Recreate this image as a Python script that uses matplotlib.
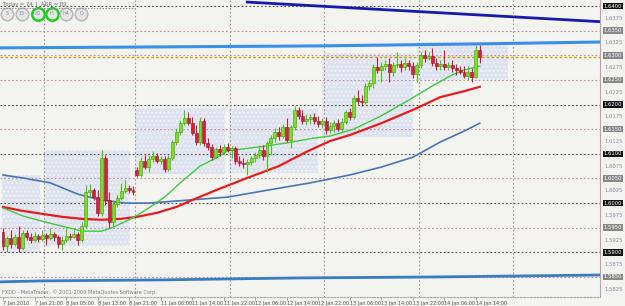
import numpy as np
import matplotlib
matplotlib.use("Agg")
import matplotlib.pyplot as plt
from matplotlib.patches import Rectangle
from matplotlib.transforms import blended_transform_factory

# GBPUSD H1 candles, bar index 0 = 7 Jan 2010 13:00
opens = [1.5941, 1.5913, 1.5929, 1.5917, 1.5931, 1.5909, 1.5939, 1.5931, 1.5925, 1.5933,
         1.5927, 1.5935, 1.5929, 1.5937, 1.5931, 1.5917, 1.5925, 1.5933, 1.5931, 1.5937,
         1.5925, 1.5953, 1.6022, 1.6026, 1.6012, 1.5980, 1.6091, 1.6006, 1.5961, 1.5998,
         1.6010, 1.6024, 1.6031, 1.6026, 1.6067, 1.6057, 1.6085, 1.6073, 1.6089, 1.6095,
         1.6085, 1.6089, 1.6069, 1.6091, 1.6124, 1.6144, 1.6162, 1.6173, 1.6162, 1.6142,
         1.6124, 1.6167, 1.6122, 1.6114, 1.6093, 1.6110, 1.6104, 1.6114, 1.6108, 1.6112,
         1.6085, 1.6081, 1.6079, 1.6083, 1.6091, 1.6097, 1.6108, 1.6095, 1.6122, 1.6132,
         1.6144, 1.6136, 1.6154, 1.6128, 1.6154, 1.6189, 1.6177, 1.6167, 1.6171, 1.6175,
         1.6167, 1.6160, 1.6167, 1.6148, 1.6156, 1.6162, 1.6150, 1.6165, 1.6185, 1.6175,
         1.6213, 1.6207, 1.6205, 1.6238, 1.6244, 1.6276, 1.6270, 1.6278, 1.6282, 1.6266,
         1.6280, 1.6282, 1.6276, 1.6284, 1.6278, 1.6262, 1.6280, 1.6301, 1.6294, 1.6299,
         1.6284, 1.6278, 1.6282, 1.6276, 1.6280, 1.6274, 1.6270, 1.6266, 1.6258, 1.6266,
         1.6256, 1.6311]
highs = [1.5949, 1.5933, 1.5945, 1.5937, 1.5953, 1.5945, 1.5945, 1.5939, 1.5941, 1.5937,
         1.5945, 1.5939, 1.5949, 1.5941, 1.5935, 1.5933, 1.5949, 1.5939, 1.5945, 1.5941,
         1.5961, 1.6037, 1.6039, 1.6031, 1.6026, 1.6108, 1.6097, 1.6022, 1.6006, 1.6016,
         1.6041, 1.6047, 1.6037, 1.6035, 1.6073, 1.6093, 1.6097, 1.6095, 1.6106, 1.6102,
         1.6095, 1.6095, 1.6097, 1.6128, 1.6152, 1.6169, 1.6189, 1.6185, 1.6175, 1.6158,
         1.6175, 1.6173, 1.6132, 1.6120, 1.6114, 1.6118, 1.6120, 1.6122, 1.6116, 1.6116,
         1.6095, 1.6091, 1.6089, 1.6095, 1.6104, 1.6118, 1.6118, 1.6126, 1.6138, 1.6152,
         1.6154, 1.6160, 1.6173, 1.6158, 1.6197, 1.6195, 1.6189, 1.6181, 1.6181, 1.6183,
         1.6177, 1.6173, 1.6175, 1.6165, 1.6169, 1.6171, 1.6173, 1.6189, 1.6193, 1.6219,
         1.6229, 1.6219, 1.6244, 1.6250, 1.6282, 1.6297, 1.6286, 1.6290, 1.6294, 1.6286,
         1.6307, 1.6290, 1.6294, 1.6290, 1.6286, 1.6286, 1.6307, 1.6311, 1.6307, 1.6315,
         1.6294, 1.6290, 1.6311, 1.6286, 1.6290, 1.6282, 1.6278, 1.6278, 1.6278, 1.6274,
         1.6321, 1.6321]
lows = [1.5905, 1.5901, 1.5909, 1.5913, 1.5901, 1.5905, 1.5925, 1.5919, 1.5921, 1.5921,
        1.5923, 1.5915, 1.5925, 1.5923, 1.5909, 1.5905, 1.5921, 1.5925, 1.5929, 1.5915,
        1.5921, 1.5949, 1.6012, 1.6006, 1.5974, 1.5974, 1.5996, 1.5949, 1.5953, 1.5992,
        1.6006, 1.6020, 1.6020, 1.6016, 1.6053, 1.6053, 1.6069, 1.6063, 1.6083, 1.6081,
        1.6079, 1.6063, 1.6065, 1.6087, 1.6118, 1.6138, 1.6158, 1.6158, 1.6138, 1.6118,
        1.6118, 1.6116, 1.6108, 1.6087, 1.6091, 1.6095, 1.6100, 1.6104, 1.6091, 1.6079,
        1.6075, 1.6071, 1.6057, 1.6077, 1.6083, 1.6091, 1.6087, 1.6063, 1.6097, 1.6124,
        1.6128, 1.6132, 1.6124, 1.6112, 1.6148, 1.6171, 1.6160, 1.6158, 1.6160, 1.6160,
        1.6154, 1.6152, 1.6140, 1.6142, 1.6144, 1.6146, 1.6146, 1.6160, 1.6169, 1.6171,
        1.6201, 1.6197, 1.6201, 1.6229, 1.6234, 1.6264, 1.6246, 1.6270, 1.6246, 1.6258,
        1.6274, 1.6266, 1.6270, 1.6270, 1.6254, 1.6246, 1.6274, 1.6286, 1.6290, 1.6278,
        1.6270, 1.6270, 1.6270, 1.6270, 1.6266, 1.6260, 1.6262, 1.6254, 1.6250, 1.6246,
        1.6254, 1.6284]
closes = [1.5913, 1.5929, 1.5917, 1.5931, 1.5909, 1.5939, 1.5931, 1.5925, 1.5933, 1.5927,
          1.5935, 1.5929, 1.5937, 1.5931, 1.5917, 1.5925, 1.5933, 1.5931, 1.5937, 1.5925,
          1.5953, 1.6022, 1.6026, 1.6012, 1.5980, 1.6091, 1.6006, 1.5961, 1.5998, 1.6010,
          1.6024, 1.6031, 1.6026, 1.6022, 1.6057, 1.6085, 1.6073, 1.6089, 1.6095, 1.6085,
          1.6089, 1.6069, 1.6091, 1.6124, 1.6144, 1.6162, 1.6173, 1.6162, 1.6142, 1.6124,
          1.6167, 1.6122, 1.6114, 1.6093, 1.6110, 1.6104, 1.6114, 1.6108, 1.6112, 1.6085,
          1.6081, 1.6079, 1.6083, 1.6091, 1.6097, 1.6108, 1.6095, 1.6122, 1.6132, 1.6144,
          1.6136, 1.6154, 1.6128, 1.6154, 1.6189, 1.6177, 1.6167, 1.6171, 1.6175, 1.6167,
          1.6160, 1.6167, 1.6148, 1.6156, 1.6162, 1.6150, 1.6165, 1.6185, 1.6175, 1.6213,
          1.6207, 1.6205, 1.6238, 1.6244, 1.6276, 1.6270, 1.6278, 1.6282, 1.6266, 1.6280,
          1.6282, 1.6276, 1.6284, 1.6278, 1.6262, 1.6280, 1.6301, 1.6294, 1.6299, 1.6284,
          1.6278, 1.6282, 1.6276, 1.6280, 1.6274, 1.6270, 1.6266, 1.6258, 1.6266, 1.6256,
          1.6311, 1.6297]

# moving averages (bar index, price)
ma_fast_idx = [0, 5, 10, 15, 20, 25, 28, 33, 37, 41, 45, 50, 54, 57, 65, 72, 79, 83, 89, 96, 103, 109, 114, 117, 121]
ma_fast = [1.5990, 1.5974, 1.5963, 1.5953, 1.5943, 1.5943, 1.5951, 1.5970, 1.5990, 1.6012, 1.6041, 1.6075, 1.6091,
           1.6106, 1.6114, 1.6122, 1.6132, 1.6136, 1.6150, 1.6177, 1.6209, 1.6238, 1.6260, 1.6270, 1.6278]
ma_mid_idx = [0, 5, 10, 15, 20, 25, 30, 34, 39, 44, 48, 54, 62, 70, 77, 83, 88, 96, 104, 111, 117, 121]
ma_mid = [1.5992, 1.5984, 1.5978, 1.5972, 1.5968, 1.5966, 1.5968, 1.5972, 1.5980, 1.5992, 1.6006, 1.6026,
          1.6051, 1.6075, 1.6104, 1.6126, 1.6138, 1.6162, 1.6189, 1.6215, 1.6227, 1.6236]
ma_slow_idx = [0, 5, 12, 19, 25, 31, 37, 47, 57, 67, 78, 88, 96, 104, 111, 117, 121]
ma_slow = [1.6057, 1.6051, 1.6041, 1.6018, 1.6006, 1.6000, 1.6000, 1.6006, 1.6012, 1.6026, 1.6041, 1.6057,
           1.6073, 1.6093, 1.6124, 1.6146, 1.6162]

# long lines across the chart
upper_band_idx = [-1, 40, 80, 120, 152]
upper_band = [1.6315, 1.6317, 1.6319, 1.6323, 1.6327]
lower_band_idx = [-1, 10, 40, 75, 110, 152]
lower_band = [1.5840, 1.5842, 1.5844, 1.5848, 1.5850, 1.5854]
trend_idx = [62, 152]
trend = [1.6408, 1.6368]

# daily high/low boxes
box_start = [-0.3, 10.4, 33.5, 57.4, 81.0, 105.0]
box_end = [9.4, 32.2, 56.3, 80.0, 104.0, 128.2]
box_top = [1.6057, 1.6108, 1.6193, 1.6193, 1.6305, 1.6327]
box_bottom = [1.5899, 1.5913, 1.6059, 1.6061, 1.6134, 1.6250]

levels = [1.6400, 1.6350, 1.6300, 1.6250, 1.6200, 1.6150, 1.6100, 1.6050, 1.6000, 1.5950, 1.5900, 1.5850]
strong_levels = [1.6400, 1.6200, 1.6100, 1.6000, 1.5900]
day_breaks = [10.5, 33.5, 57.5, 81.5, 105.5, 129.5]

time_idx = [0, 8, 16, 24, 32, 40, 48, 56, 64, 72, 80, 88, 96, 104, 112, 120]
time_labels = ["7 Jan 2010", "7 Jan 21:00", "8 Jan 05:00", "8 Jan 13:00", "8 Jan 21:00",
               "11 Jan 06:00", "11 Jan 14:00", "11 Jan 22:00", "12 Jan 06:00", "12 Jan 14:00",
               "12 Jan 22:00", "13 Jan 06:00", "13 Jan 14:00", "13 Jan 22:00", "14 Jan 06:00",
               "14 Jan 14:00"]

bg = '#f3f4f0'
fig = plt.figure(figsize=(6.25, 3.06), dpi=100, facecolor=bg)
ax = fig.add_axes([0.0, 9 / 306, 600 / 625, 297 / 306], facecolor=bg)
ax.set_xlim(-0.761, 151.52)
ax.set_ylim(1.58093, 1.64122)

# boxes
for x0, x1, t, b in zip(box_start, box_end, box_top, box_bottom):
    ax.add_patch(Rectangle((x0, b), x1 - x0, t - b, facecolor='#dde2ee', edgecolor='#f0f2f8',
                           hatch='....', lw=0, zorder=1))

# grid levels
for lv in levels:
    c = '#505050' if lv in strong_levels else '#c090aa'
    ax.axhline(lv, color=c, lw=0.8, ls=(0, (1.5, 2)), zorder=2)
for d in day_breaks:
    ax.axvline(d, color='#9a9a9a', lw=0.8, ls=(0, (1.5, 2)), zorder=2)

# long lines
ax.plot(upper_band_idx, upper_band, color='#3a8fe8', lw=2.2, zorder=3)
ax.plot(lower_band_idx, lower_band, color='#3b7cc0', lw=2.0, zorder=3)
ax.plot(trend_idx, trend, color='#1818b0', lw=2.0, zorder=3)
ax.axhline(closes[-1], color='#d8a000', lw=1.0, ls=(0, (2, 1.5)), zorder=3)

# moving averages
ax.plot(ma_slow_idx, ma_slow, color='#4a74b8', lw=1.2, zorder=4)
ax.plot(ma_mid_idx, ma_mid, color='#e81c1c', lw=1.6, zorder=4)
ax.plot(ma_fast_idx, ma_fast, color='#3ccc3c', lw=1.0, zorder=4)

# candles
idx = np.arange(len(closes))
o = np.array(opens)
c = np.array(closes)
up = c >= o
wick_col = np.where(up, '#4cc414', '#cc2030')
ax.vlines(idx, lows, highs, colors=wick_col, lw=0.8, zorder=5)
body_h = np.maximum(np.abs(c - o), 0.00015)
body_b = np.minimum(o, c)
ax.bar(idx[up], body_h[up], bottom=body_b[up], width=0.75, color='#80e020',
       edgecolor='#3a9a10', lw=0.4, zorder=6)
ax.bar(idx[~up], body_h[~up], bottom=body_b[~up], width=0.75, color='#d4203a',
       edgecolor='#a01028', lw=0.4, zorder=6)

# axes styling
for s in ['top', 'left']:
    ax.spines[s].set_visible(False)
ax.spines['right'].set_color('#b8a0b8')
ax.spines['bottom'].set_color('#a8a8a8')
ax.spines['bottom'].set_linestyle((0, (1.5, 1.5)))
ax.set_yticks([])
ax.set_xticks(time_idx)
ax.set_xticklabels(time_labels, fontsize=3.5, color='#505050', ha='left')
ax.tick_params(axis='x', length=2, width=0.5, color='#808080', pad=1)

# price labels on the right
tr = blended_transform_factory(ax.transAxes, ax.transData)
for lv in levels:
    fc = '#101010' if lv in strong_levels else '#888888'
    ax.text(1.006, lv, f"{lv:.4f}", transform=tr, fontsize=3.8, color='white', va='center',
            ha='left', bbox=dict(boxstyle='square,pad=0.15', fc=fc, ec='none'), clip_on=False)
for lv in levels:
    mid = lv + 0.0025
    if mid < 1.6412:
        ax.text(1.008, mid, f"{mid:.4f}", transform=tr, fontsize=3.8, color='#8890a0',
                va='center', ha='left', clip_on=False)
ax.text(1.008, 1.5825, "1.5825", transform=tr, fontsize=3.8, color='#8890a0',
        va='center', ha='left', clip_on=False)

# header and timeframe buttons
fig.text(3 / 625, 1 - 4 / 306, "Today = 74  |  ADR = 89", fontsize=3.8, color='#707070', va='center')
fig.add_artist(plt.Line2D([0, 135 / 625], [1 - 8 / 306, 1 - 8 / 306], transform=fig.transFigure,
                          color='#909090', lw=0.7, ls=(0, (1.5, 1.5))))
btn_x = [1.0, 4.8, 8.9, 12.4, 16.0, 19.8]
btn_txt = ["5", "15", "30", "H", "H4", "D"]
btn_on = [False, False, True, True, False, False]
btn_y = 1.6384
for bx, bt, on in zip(btn_x, btn_txt, btn_on):
    ec = '#22cc22' if on else '#b8b8b8'
    ax.plot([bx], [btn_y], marker='o', ms=9, mfc='#e6e6e6', mec=ec,
            mew=1.8 if on else 1.1, zorder=8)
    ax.text(bx, btn_y, bt, fontsize=3.5, color='#8090a0', ha='center', va='center', zorder=9)

ax.text(-0.25, 1.5819, "FXDD - MetaTrader, © 2001-2009 MetaQuotes Software Corp.",
        fontsize=3.6, color='#808080', va='center', zorder=9)

fig.savefig("out.png", dpi=100, facecolor=bg)
